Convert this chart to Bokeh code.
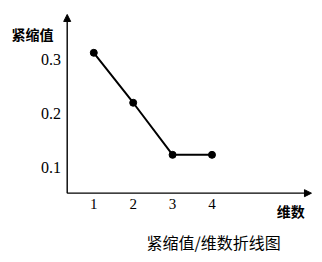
from bokeh.plotting import figure
from bokeh.models import Range1d, Arrow, NormalHead, ColumnDataSource
from bokeh.core.properties import value
from bokeh.embed import file_html
from bokeh.resources import INLINE

# data
dims = [1, 2, 3, 4]
values = [0.313, 0.22, 0.123, 0.123]
x_ticks = [1, 2, 3, 4]
x_tick_labels = ["1", "2", "3", "4"]
y_ticks = [0.1, 0.2, 0.3]
y_tick_labels = ["0.1", "0.2", "0.3"]
y_title = "紧缩值"
x_title = "维数"
chart_title = "紧缩值/维数折线图"

CJK = value("Noto Sans CJK SC")
SERIF = value("Liberation Serif")

p = figure(width=322, height=262, output_backend="svg", toolbar_location=None,
           x_range=Range1d(-1.368, 6.805), y_range=Range1d(-0.0775, 0.4104),
           x_axis_type=None, y_axis_type=None, min_border=0,
           background_fill_color="white", border_fill_color="white")
p.grid.visible = False
p.outline_line_color = None

x0 = 0.325      # y-axis position (data x)
y0 = 0.0516     # x-axis position (data y)

# axes with arrows
p.add_layout(Arrow(x_start=x0, y_start=y0, x_end=x0, y_end=0.3844,
                   line_color="black", line_width=1.4,
                   end=NormalHead(size=7, fill_color="black", line_color="black")))
p.add_layout(Arrow(x_start=x0, y_start=y0, x_end=6.525, y_end=y0,
                   line_color="black", line_width=1.4,
                   end=NormalHead(size=7, fill_color="black", line_color="black")))

# line and markers
src = ColumnDataSource(dict(x=dims, y=values))
p.line("x", "y", source=src, line_color="black", line_width=2)
p.scatter("x", "y", source=src, size=7, color="black")

# tick labels
p.text(x=[x0 - 0.16] * len(y_ticks), y=y_ticks, text=y_tick_labels,
       text_font=SERIF, text_font_size="16px", text_align="right",
       text_baseline="middle", text_color="black")
p.text(x=x_ticks, y=[y0 - 0.021] * len(x_ticks), text=x_tick_labels,
       text_font=SERIF, text_font_size="15px", text_align="center",
       text_baseline="middle", text_color="black")

# titles
p.text(x=[x0 - 0.35], y=[0.348], text=[y_title], text_font=CJK,
       text_font_size="14px", text_font_style="bold", text_align="right",
       text_baseline="middle", text_color="black")
p.text(x=[6.0], y=[y0 - 0.033], text=[x_title], text_font=CJK,
       text_font_size="14px", text_font_style="bold", text_align="center",
       text_baseline="middle", text_color="black")
p.text(x=[4.04], y=[-0.0395], text=[chart_title], text_font=CJK,
       text_font_size="16px", text_align="center",
       text_baseline="middle", text_color="black")

open("out.html", "w").write(file_html(p, INLINE))
